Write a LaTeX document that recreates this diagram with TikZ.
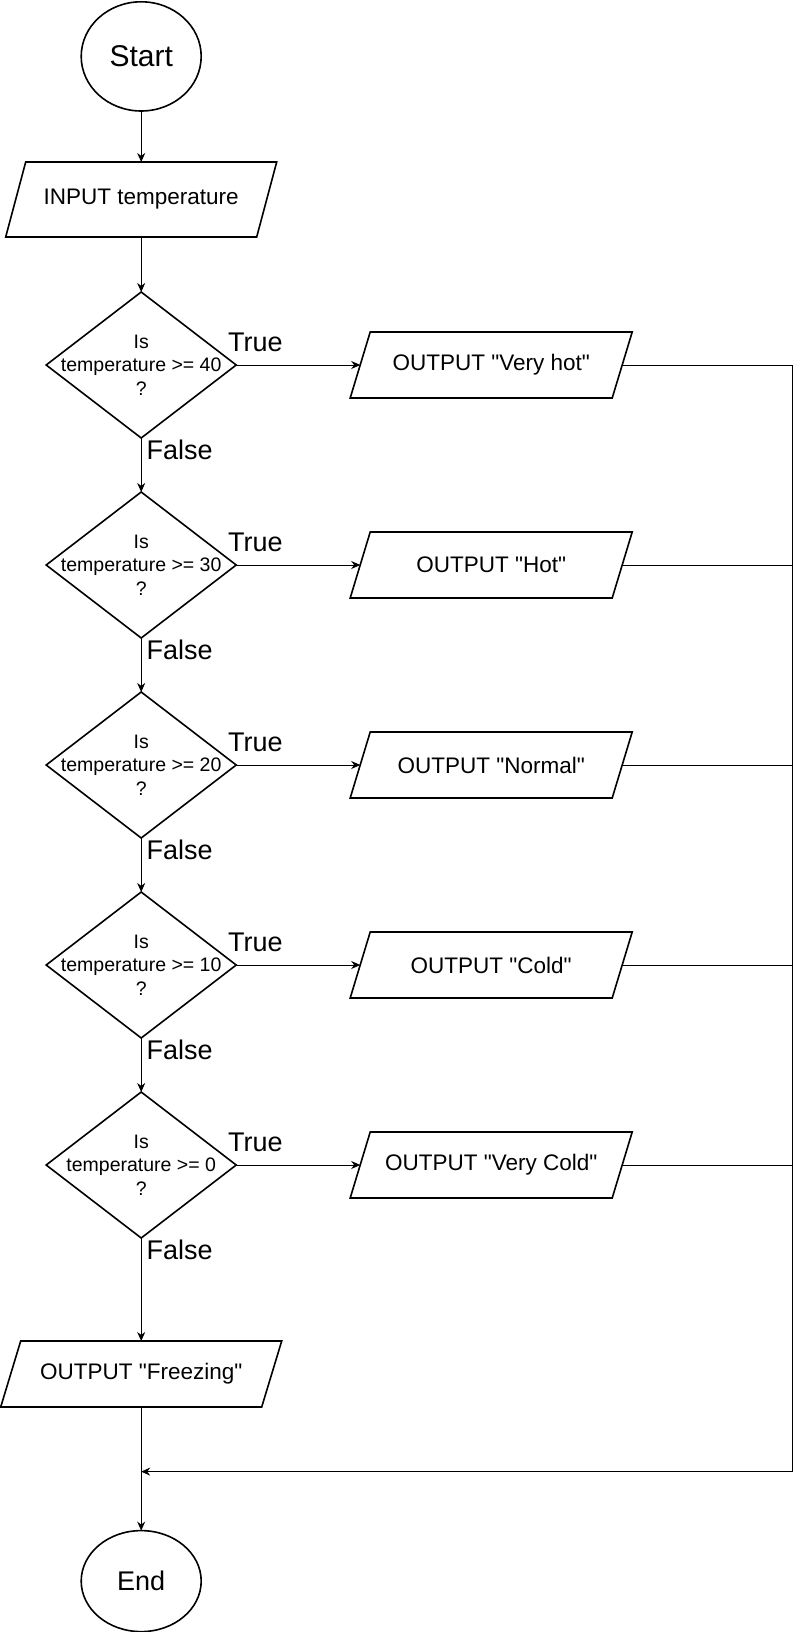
\documentclass[tikz,border=0pt]{standalone}
\usepackage{fontspec}
\setmainfont{Liberation Sans}[Ligatures=TeXOff]
\usetikzlibrary{arrows.meta, positioning, shapes.geometric}

\begin{document}
\begin{tikzpicture}[
    terminal/.style={draw, ellipse, line width=0.8pt, minimum width=60pt, inner sep=0pt, outer sep=0pt},
    iobox/.style={minimum width=131pt, minimum height=33pt, inner sep=0pt, outer sep=0pt, font=\fontsize{11.25pt}{13.5pt}\selectfont},
    check/.style={draw, diamond, line width=0.8pt, minimum width=95pt, minimum height=73pt, inner sep=0pt, outer sep=0pt},
    qtext/.style={align=center, inner sep=0pt, font=\fontsize{9.75pt}{11.75pt}\selectfont},
    branch/.style={anchor=base west, inner sep=0pt, font=\fontsize{13.5pt}{16pt}\selectfont},
    flow/.style={-{Stealth[length=4.5pt, width=4pt]}, line width=0.5pt},
    plain/.style={line width=0.5pt},
]
  \useasboundingbox (0,0) rectangle (400pt,-816pt);

  \node[terminal, minimum height=54.6pt, font=\fontsize{15pt}{18pt}\selectfont] (start) at (70.6pt,-28.2pt) {Start};
  \node[iobox, minimum width=125.5pt, minimum height=37.5pt, below=25.5pt of start] (input) {INPUT temperature};

  \node[check, below=27.5pt of input] (c1) {};
  \node[check, below=27pt of c1] (c2) {};
  \node[check, below=27pt of c2] (c3) {};
  \node[check, below=27pt of c3] (c4) {};
  \node[check, below=27pt of c4] (c5) {};

  \node[qtext] (c1txt) at (c1) {Is\\temperature >= 40\\?};
  \node[qtext] (c2txt) at (c2) {Is\\temperature >= 30\\?};
  \node[qtext] (c3txt) at (c3) {Is\\temperature >= 20\\?};
  \node[qtext] (c4txt) at (c4) {Is\\temperature >= 10\\?};
  \node[qtext] (c5txt) at (c5) {Is\\temperature >= 0\\?};

  \node[iobox, right=62pt of c1] (o1) {OUTPUT "Very hot"};
  \node[iobox, right=62pt of c2] (o2) {OUTPUT "Hot"};
  \node[iobox, right=62pt of c3] (o3) {OUTPUT "Normal"};
  \node[iobox, right=62pt of c4] (o4) {OUTPUT "Cold"};
  \node[iobox, right=62pt of c5] (o5) {OUTPUT "Very Cold"};

  \node[iobox, minimum width=130.5pt, below=51.5pt of c5] (freeze) {OUTPUT "Freezing"};
  \node[terminal, minimum height=50.5pt, font=\fontsize{13.5pt}{16pt}\selectfont, below=61.8pt of freeze] (stop) {End};

  % slanted outlines of the input/output boxes
  \foreach \n in {input,o1,o2,o3,o4,o5,freeze}
    \draw[line width=0.8pt] ([xshift=5pt]\n.north west) -- ([xshift=5pt]\n.north east)
      -- ([xshift=-5pt]\n.south east) -- ([xshift=-5pt]\n.south west) -- cycle;

  % branch labels
  \foreach \c in {c1,c2,c3,c4,c5} {
    \node[branch] (\c true) at ([xshift=-4.2pt, yshift=6.65pt]\c.east) {True};
    \node[branch] (\c false) at ([xshift=2.5pt, yshift=-10.65pt]\c.south) {False};
  }

  \coordinate (jr) at (396.3pt,-735.8pt);
  \coordinate (jn) at (freeze |- jr);

  \draw[flow] (start) -- (input);
  \draw[flow] (input) -- (c1);
  \draw[flow] (c1) -- (c2);
  \draw[flow] (c2) -- (c3);
  \draw[flow] (c3) -- (c4);
  \draw[flow] (c4) -- (c5);
  \draw[flow] (c5) -- (freeze);
  \draw[flow] (freeze) -- (stop);

  \draw[flow] (c1.east) -- (o1.west);
  \draw[flow] (c2.east) -- (o2.west);
  \draw[flow] (c3.east) -- (o3.west);
  \draw[flow] (c4.east) -- (o4.west);
  \draw[flow] (c5.east) -- (o5.west);

  \foreach \o in {o1,o2,o3,o4,o5}
    \draw[plain] (\o.east) -| (jr);
  \draw[flow] (jr) -- (jn);
\end{tikzpicture}
\end{document}
